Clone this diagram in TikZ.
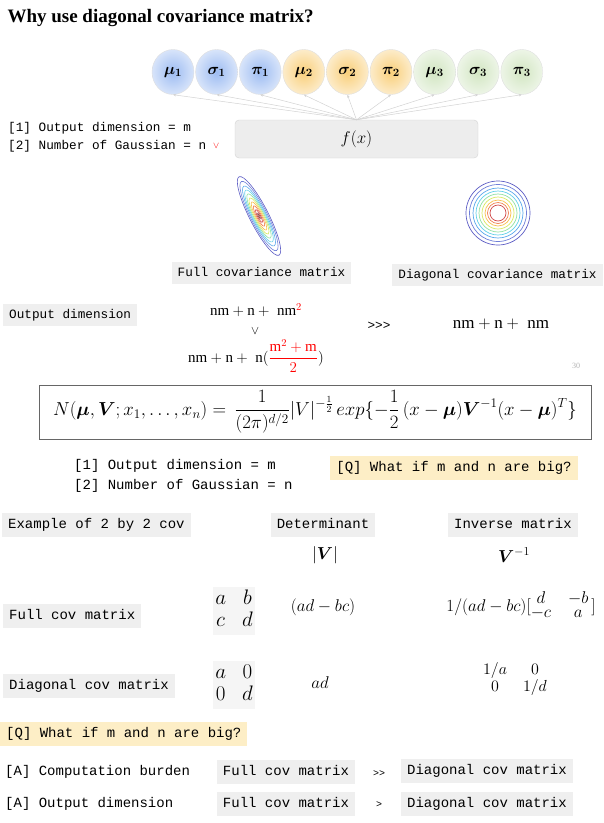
\RequirePackage{fix-cm}
\documentclass[tikz,border=0pt]{standalone}
\usepackage{amsmath}
\usepackage{amssymb}
\usepackage{fontspec}
\setmainfont{Liberation Serif}
\setmonofont{Liberation Mono}
\usetikzlibrary{positioning,shapes.geometric,arrows.meta}
\definecolor{gblue}{HTML}{9DBCF2}
\definecolor{gorange}{HTML}{F9CF7A}
\definecolor{ggreen}{HTML}{D2E6C2}
\definecolor{boxgray}{HTML}{EFEFEF}
\definecolor{qyellow}{HTML}{FDEEC6}
\definecolor{ct1}{HTML}{5C5CC4}
\definecolor{ct2}{HTML}{6F7FD8}
\definecolor{ct3}{HTML}{5AA8EC}
\definecolor{ct4}{HTML}{60D0E8}
\definecolor{ct5}{HTML}{8EE0A0}
\definecolor{ct6}{HTML}{D8E860}
\definecolor{ct7}{HTML}{F8C050}
\definecolor{ct8}{HTML}{F08050}
\definecolor{ct9}{HTML}{D04848}
\definecolor{ct10}{HTML}{904040}

\begin{document}
\begin{tikzpicture}[x=1pt, y=-1pt,
    smalltt/.style={font=\ttfamily\fontsize{12.7}{15}\selectfont, text height=9pt, text depth=3pt},
    bigtt/.style={font=\ttfamily\fontsize{14}{17}\selectfont, text height=10pt, text depth=3.5pt},
    line/.style={inner sep=0pt, inner ysep=3pt},
    gbox/.style={fill=boxgray, inner xsep=6pt, inner ysep=5pt},
    qbox/.style={fill=qyellow, inner xsep=6pt, inner ysep=5pt},
    par/.style={ellipse, draw=white!75!gray, minimum width=42pt, minimum height=45pt,
      inner sep=0pt, shading=radial, font=\fontsize{16}{18}\selectfont},
    link/.style={draw=gray!35, line width=.5pt, -{Stealth[length=3pt,width=2.5pt]}},
    fbox/.style={draw=gray!35, fill=gray!14, rounded corners=4pt, minimum width=243pt,
      minimum height=38pt, font=\fontsize{17}{20}\selectfont},
    mth/.style={font=\fontsize{#1}{#1}\selectfont}]
  \useasboundingbox (0,0) rectangle (604,823);

  \node[anchor=base west, font=\bfseries\fontsize{19}{22}\selectfont] (title) at (4,22)
    {Why use diagonal covariance matrix?};

  % mixture parameters
  \foreach \g/\col in {1/gblue,2/gorange,3/ggreen}
    \foreach \p/\sym [count=\k from 0] in {mu/\mu,sigma/\sigma,pi/\pi}
      \node[par, inner color=\col, outer color=\col!40!white] (\p\g)
        at ({173+43.6*(3*\g-3+\k)},72) {$\boldsymbol{\sym_{\g}}$};
  \node[fbox] (fx) at (356.5,139) {$f(x)$};
  \foreach \g in {1,2,3}
    \foreach \p in {mu,sigma,pi}
      \draw[link] (fx.north) -- (\p\g.south);

  \node[smalltt, line, anchor=west] (dim1) at (8,128) {[1] Output dimension = m};
  \node[smalltt, line, below=0pt of dim1.south west, anchor=north west] (gauss1)
    {[2] Number of Gaussian = n};
  \node[right=3pt of gauss1, text=red, font=\fontsize{9}{9}\selectfont] (check) {$\vee$};

  % contours
  \foreach \r/\c in {1/ct1,.88/ct2,.76/ct3,.66/ct4,.56/ct5,.46/ct6,.36/ct7,.26/ct8,.16/ct9,.07/ct10}
    \draw[\c, line width=.6pt, rotate around={-63:(259,216)}]
      (259,216) ellipse [x radius=44*\r, y radius=9.5*\r];
  \foreach \r/\c in {32/ct1,28.5/ct2,25/ct3,22/ct4,19/ct5,16/ct6,13/ct7,10.5/ct8,8/ct9}
    \draw[\c, line width=.7pt] (498,213) circle [radius=\r];

  \node[gbox, smalltt] (fullcap) at (261.5,273) {Full covariance matrix};
  \node[gbox, smalltt] (diagcap) at (497.5,275) {Diagonal covariance matrix};
  \node[gbox, smalltt, anchor=west] (outdim) at (3,315) {Output dimension};
  \node[mth=15] (fullcount) at (256,310) {$\mathrm{nm}+\mathrm{n}+\;\mathrm{nm}^{\color{red}2}$};
  \node[mth=12] (vee) at (255,331) {$\vee$};
  \node[mth=15] (fullsym) at (256,356)
    {$\mathrm{nm}+\mathrm{n}+\;\mathrm{n}({\color{red}\dfrac{\mathrm{m}^2+\mathrm{m}}{2}})$};
  \node[smalltt] (ggg) at (379,326) {>{}>{}>};
  \node[mth=17] (diagcount) at (501,324) {$\mathrm{nm}+\mathrm{n}+\;\mathrm{nm}$};
  \node[text=gray!60, font=\fontsize{8}{9}\selectfont] (page) at (576,366) {30};

  \node[draw=gray!80!black, line width=.8pt, minimum width=552pt, minimum height=54pt,
    inner sep=2pt, mth=18.8] (formula) at (315,412)
    {$\displaystyle N(\boldsymbol{\mu},\boldsymbol{V};x_1,\dots,x_n)=\,\frac{1}{(2\pi)^{d/2}}
      |V|^{-\frac{1}{2}}\,exp\{-\frac{1}{2}\,(x-\boldsymbol{\mu})\boldsymbol{V}^{-1}
      (x-\boldsymbol{\mu})^T\}$};

  \node[bigtt, line, anchor=west] (dim2) at (74,466) {[1] Output dimension = m};
  \node[bigtt, line, below=0pt of dim2.south west, anchor=north west] (gauss2)
    {[2] Number of Gaussian = n};
  \node[qbox, bigtt] (qmid) at (454,468) {[Q] What if m and n are big?};

  % 2 by 2 example
  \node[gbox, bigtt, anchor=west] (example) at (2,525) {Example of 2 by 2 cov};
  \node[gbox, bigtt] (det) at (323,525) {Determinant};
  \node[gbox, bigtt] (inv) at (513,525) {Inverse matrix};
  \node[mth=17.3] (detsym) at (325,555) {$|\boldsymbol{V}|$};
  \node[mth=17.3] (invsym) at (514,555) {$\boldsymbol{V}^{-1}$};

  \node[gbox, bigtt, anchor=west] (fullrow) at (3,616) {Full cov matrix};
  \node[fill=boxgray!60, inner sep=2pt, mth=21] (fullmat) at (234,611)
    {$\renewcommand\arraystretch{1.05}\begin{array}{@{}c@{\hspace{16pt}}c@{}}a&b\\c&d\end{array}$};
  \node[mth=17] (fulldet) at (323,607) {$(ad-bc)$};
  \node[mth=17] (fullinv) at (521,607)
    {$1/(ad-bc)[\renewcommand\arraystretch{.8}\begin{array}{@{}c@{\quad}c@{}}
      d&-b\\-c&a\end{array}\,]$};

  \node[gbox, bigtt, anchor=west] (diagrow) at (3,686) {Diagonal cov matrix};
  \node[fill=boxgray!60, inner sep=2pt, mth=21] (diagmat) at (234,685)
    {$\renewcommand\arraystretch{1.05}\begin{array}{@{}c@{\hspace{16pt}}c@{}}a&0\\0&d\end{array}$};
  \node[mth=17] (diagdet) at (320,683) {$ad$};
  \node[mth=16] (diaginv) at (515,679)
    {$\renewcommand\arraystretch{.9}\begin{array}{c@{\quad}c}1/a&0\\0&1/d\end{array}$};

  % answers
  \node[qbox, bigtt, anchor=west] (qlow) at (0,734) {[Q] What if m and n are big?};
  \node[bigtt, line, anchor=west] (aburden) at (5,772) {[A] Computation burden};
  \node[gbox, bigtt] (bfull) at (286,772) {Full cov matrix};
  \node[font=\ttfamily\fontsize{10}{12}\selectfont] (gg) at (379,774) {>{}>};
  \node[gbox, bigtt] (bdiag) at (487,771) {Diagonal cov matrix};
  \node[bigtt, line, anchor=west] (aout) at (5,804) {[A] Output dimension};
  \node[gbox, bigtt] (ofull) at (286,804) {Full cov matrix};
  \node[font=\ttfamily\fontsize{10}{12}\selectfont] (g) at (379,805) {>};
  \node[gbox, bigtt] (odiag) at (487,804) {Diagonal cov matrix};
\end{tikzpicture}
\end{document}
